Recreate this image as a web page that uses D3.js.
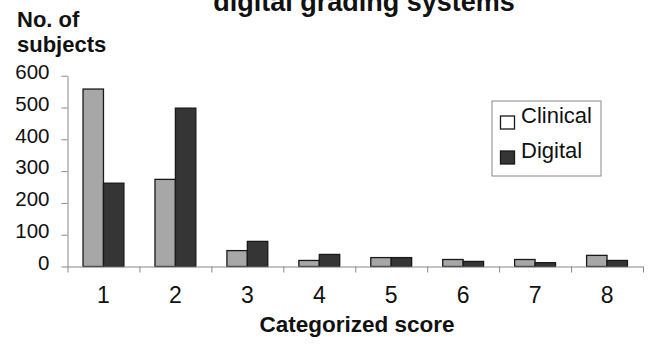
<!DOCTYPE html>
<html>
<head>
<meta charset="utf-8">
<script src="https://cdn.jsdelivr.net/npm/d3@7"></script>
<style>
  body { margin: 0; background: #fff; }
  svg { display: block; font-family: "Liberation Sans", Arial, sans-serif; }
</style>
</head>
<body>
<svg id="chart" width="652" height="346"></svg>
<script>
const categories = ["1", "2", "3", "4", "5", "6", "7", "8"];
const seriesNames = ["Clinical", "Digital"];
const clinicalValues = [558, 274, 50, 19, 28, 22, 22, 35];
const digitalValues = [262, 498, 79, 38, 28, 16, 12, 19];
const yTicks = [0, 100, 200, 300, 400, 500, 600];

(function () {
const svg = d3.select("#chart");
const plotLeft = 67.5, plotRight = 643, plotTop = 75.7, plotBottom = 266.5;

const x = d3.scaleBand().domain(categories).range([plotLeft, plotRight]).padding(0);
const xEdges = d3.scaleLinear().domain([0, categories.length]).range([plotLeft, plotRight]);
const xs = d3.scaleBand().domain(seriesNames).range([0, x.bandwidth()]).paddingInner(0).paddingOuter(0.76);
const y = d3.scaleLinear().domain([0, 600]).range([plotBottom, plotTop]);
const color = d3.scaleOrdinal().domain(seriesNames).range(["#a7a7a7", "#353535"]);
const legendFill = d3.scaleOrdinal().domain(seriesNames).range(["#ffffff", "#353535"]);

const data = categories.map((c, i) => ({ cat: c, values: [
  { key: "Clinical", value: clinicalValues[i] },
  { key: "Digital", value: digitalValues[i] }
]}));

// Title (second line, clipped at top as in the source)
svg.append("text")
  .attr("x", 364).attr("y", 11)
  .attr("text-anchor", "middle")
  .attr("font-size", 27).attr("font-weight", "bold").attr("fill", "#111")
  .text("digital grading systems");

// Y title
svg.append("text").attr("x", 17).attr("y", 27)
  .attr("font-size", 22).attr("font-weight", "bold").attr("fill", "#111")
  .text("No. of");
svg.append("text").attr("x", 17).attr("y", 52)
  .attr("font-size", 22).attr("font-weight", "bold").attr("fill", "#111")
  .text("subjects");

// Y axis
const yAxis = svg.append("g").attr("transform", `translate(${plotLeft},0)`)
  .call(d3.axisLeft(y).tickValues(yTicks).tickSize(6).tickSizeOuter(0).tickPadding(12));
yAxis.select(".domain").attr("stroke", "#888");
yAxis.selectAll(".tick line").attr("stroke", "#888");
yAxis.selectAll(".tick text").attr("font-size", 20.5).attr("fill", "#111")
  .attr("font-family", "Liberation Sans, Arial, sans-serif").attr("dy", "0.14em");

// Bars
const groups = svg.append("g").selectAll("g").data(data).join("g")
  .attr("transform", d => `translate(${x(d.cat)},0)`);
groups.selectAll("rect").data(d => d.values).join("rect")
  .attr("x", d => xs(d.key))
  .attr("y", d => y(d.value))
  .attr("width", xs.bandwidth())
  .attr("height", d => y(0) - y(d.value))
  .attr("fill", d => color(d.key))
  .attr("stroke", "#1a1a1a").attr("stroke-width", 1.3);

// X axis: boundary ticks
const xTickAxis = svg.append("g").attr("transform", `translate(0,${plotBottom})`)
  .call(d3.axisBottom(xEdges).tickValues(d3.range(0, categories.length + 1)).tickFormat("").tickSize(6).tickSizeOuter(0));
xTickAxis.select(".domain").attr("stroke", "#888");
xTickAxis.selectAll(".tick line").attr("stroke", "#888");

// X axis labels
const xLabAxis = svg.append("g").attr("transform", `translate(0,${plotBottom})`)
  .call(d3.axisBottom(x).tickSize(0).tickPadding(20));
xLabAxis.select(".domain").remove();
xLabAxis.selectAll(".tick text").attr("font-size", 23).attr("fill", "#111")
  .attr("font-family", "Liberation Sans, Arial, sans-serif");

// X title
svg.append("text").attr("x", 357).attr("y", 332)
  .attr("text-anchor", "middle")
  .attr("font-size", 22.5).attr("font-weight", "bold").attr("fill", "#111")
  .text("Categorized score");

// Legend
const legend = svg.append("g");
legend.append("rect").attr("x", 492).attr("y", 101).attr("width", 109).attr("height", 75)
  .attr("fill", "#fff").attr("stroke", "#888").attr("stroke-width", 1);
const legendRows = [116, 151];
const legendBase = [123, 158];
seriesNames.forEach((s, i) => {
  legend.append("rect").attr("x", 500.5).attr("y", legendRows[i]).attr("width", 14).attr("height", 13)
    .attr("fill", legendFill(s)).attr("stroke", "#1a1a1a").attr("stroke-width", 1.3);
  legend.append("text").attr("x", 521).attr("y", legendBase[i])
    .attr("font-size", 22).attr("fill", "#111").text(s);
});
})();
</script>
</body>
</html>
